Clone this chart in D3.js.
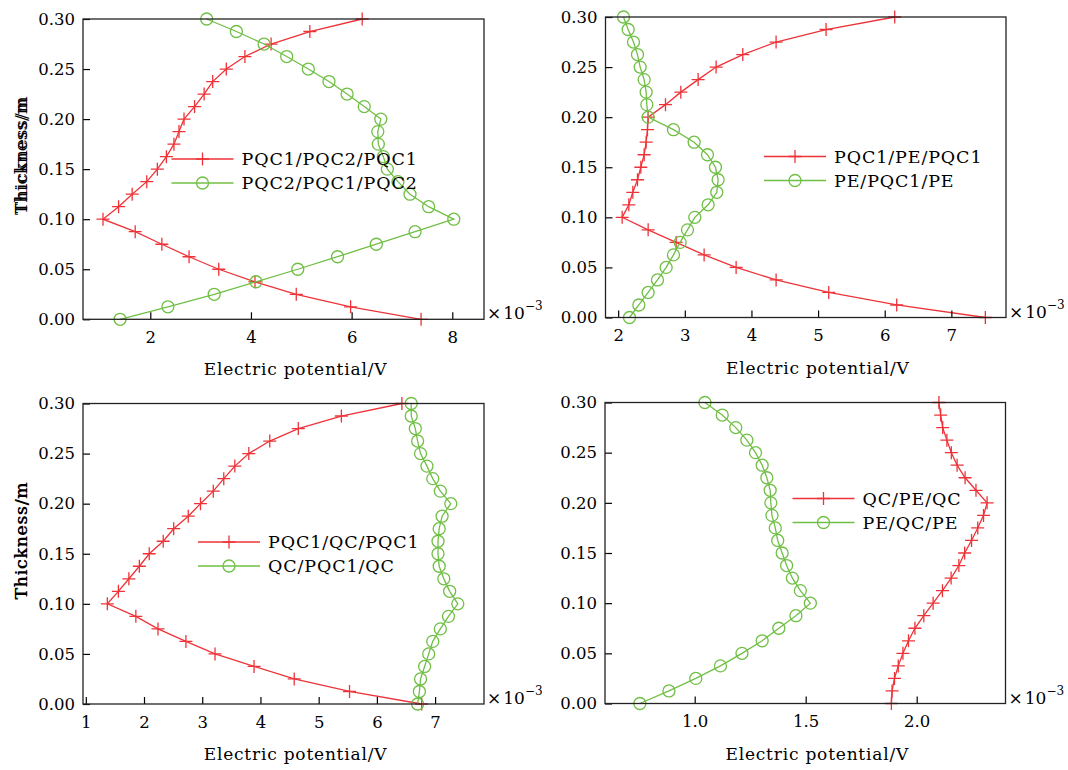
<!DOCTYPE html>
<html>
<head>
<meta charset="utf-8">
<script src="https://cdn.jsdelivr.net/npm/d3@7"></script>
<style>
  html, body { margin: 0; padding: 0; background: #fff; }
  svg { display: block; font-family: "DejaVu Serif", serif; }
</style>
</head>
<body>
<svg id="chart" width="1068" height="770"></svg>
<script>
// thickness of each sample (m), top to bottom
const thickness = [0.3, 0.2875, 0.275, 0.2625, 0.25, 0.2375, 0.225, 0.2125, 0.2, 0.1875, 0.175, 0.1625,
    0.15, 0.1375, 0.125, 0.1125, 0.1, 0.0875, 0.075, 0.0625, 0.05, 0.0375, 0.025, 0.0125, 0];

// electric potential (x 10^-3 V), one value per thickness
const pqc1Pqc2Pqc1 = [6.21, 5.17, 4.40, 3.88, 3.51, 3.24, 3.07, 2.88, 2.67, 2.57, 2.47, 2.32,
    2.14, 1.93, 1.64, 1.37, 1.06, 1.70, 2.23, 2.77, 3.36, 4.08, 4.90, 5.98, 7.38];
const pqc2Pqc1Pqc2 = [3.12, 3.71, 4.26, 4.71, 5.14, 5.55, 5.91, 6.25, 6.58, 6.52, 6.53, 6.63,
    6.71, 6.92, 7.16, 7.53, 8.03, 7.26, 6.49, 5.72, 4.93, 4.10, 3.27, 2.35, 1.40];

const pqc1PePqc1 = [6.15, 5.12, 4.37, 3.87, 3.47, 3.20, 2.94, 2.71, 2.45, 2.44, 2.42, 2.39,
    2.34, 2.29, 2.22, 2.16, 2.06, 2.45, 2.87, 3.29, 3.77, 4.37, 5.16, 6.18, 7.51];
const pePqc1Pe = [2.08, 2.15, 2.23, 2.29, 2.33, 2.39, 2.42, 2.43, 2.45, 2.83, 3.14, 3.34,
    3.46, 3.50, 3.48, 3.35, 3.15, 3.04, 2.93, 2.83, 2.72, 2.59, 2.45, 2.31, 2.17];

const pqc1QcPqc1 = [6.43, 5.39, 4.65, 4.16, 3.80, 3.56, 3.37, 3.19, 2.97, 2.76, 2.51, 2.33,
    2.09, 1.92, 1.74, 1.56, 1.37, 1.86, 2.24, 2.72, 3.22, 3.89, 4.58, 5.53, 6.77];
const qcPqc1Qc = [6.59, 6.59, 6.66, 6.70, 6.75, 6.86, 6.96, 7.09, 7.27, 7.12, 7.07, 7.05,
    7.05, 7.07, 7.15, 7.25, 7.39, 7.23, 7.09, 6.96, 6.89, 6.82, 6.75, 6.73, 6.70];

const qcPeQc = [2.100, 2.108, 2.117, 2.136, 2.156, 2.182, 2.218, 2.267, 2.317, 2.301, 2.275, 2.247,
    2.216, 2.190, 2.155, 2.116, 2.074, 2.032, 1.992, 1.963, 1.938, 1.917, 1.900, 1.889, 1.886];
const peQcPe = [1.046, 1.124, 1.185, 1.235, 1.274, 1.304, 1.325, 1.340, 1.343, 1.348, 1.363, 1.374,
    1.394, 1.414, 1.440, 1.476, 1.521, 1.456, 1.379, 1.304, 1.213, 1.116, 1.005, 0.884, 0.753];

const yTicks = [0, 0.05, 0.1, 0.15, 0.2, 0.25, 0.3];
const xTicks1 = [2, 4, 6, 8];
const xTicks2 = [2, 3, 4, 5, 6, 7];
const xTicks3 = [1, 2, 3, 4, 5, 6, 7];
const xTicks4 = [1.0, 1.5, 2.0];

const RED = "#ee3338";
const GREEN = "#70bf45";

const svg = d3.select("#chart");

const panels = [
    { box: [83, 484, 19, 319.3], xDomain: [0.663, 8.63], xTicks: xTicks1, fmt: d3.format("d"),
      series: [{ name: "PQC1/PQC2/PQC1", values: pqc1Pqc2Pqc1, kind: "plus" },
               { name: "PQC2/PQC1/PQC2", values: pqc2Pqc1Pqc2, kind: "circle" }],
      legend: { x: 171.5, y: 159 } },
    { box: [605.5, 1006, 17, 317.5], xDomain: [1.81, 7.82], xTicks: xTicks2, fmt: d3.format("d"),
      series: [{ name: "PQC1/PE/PQC1", values: pqc1PePqc1, kind: "plus" },
               { name: "PE/PQC1/PE", values: pePqc1Pe, kind: "circle" }],
      legend: { x: 764, y: 156.5 } },
    { box: [83, 484, 403.5, 704], xDomain: [0.952, 7.84], xTicks: xTicks3, fmt: d3.format("d"),
      series: [{ name: "PQC1/QC/PQC1", values: pqc1QcPqc1, kind: "plus" },
               { name: "QC/PQC1/QC", values: qcPqc1Qc, kind: "circle" }],
      legend: { x: 198, y: 542 } },
    { box: [605, 1005.5, 402.5, 703.5], xDomain: [0.596, 2.40], xTicks: xTicks4, fmt: d3.format(".1f"),
      series: [{ name: "QC/PE/QC", values: qcPeQc, kind: "plus" },
               { name: "PE/QC/PE", values: peQcPe, kind: "circle" }],
      legend: { x: 792.5, y: 498.5 } }
];

function drawMarker(g, kind, color, x, y) {
    if (kind === "plus") {
        g.append("path")
            .attr("d", `M${x - 6.5},${y}H${x + 6.5}M${x},${y - 6.5}V${y + 6.5}`)
            .attr("stroke", color).attr("stroke-width", 1.3).attr("fill", "none");
    } else {
        g.append("circle")
            .attr("cx", x).attr("cy", y).attr("r", 6)
            .attr("stroke", color).attr("stroke-width", 1.3).attr("fill", "none");
    }
}

panels.forEach(p => {
    const [left, right, top, bottom] = p.box;
    const x = d3.scaleLinear().domain(p.xDomain).range([left, right]);
    const y = d3.scaleLinear().domain([0, 0.3]).range([bottom, top]);
    const g = svg.append("g");

    // data lines and markers
    p.series.forEach(s => {
        const color = s.kind === "plus" ? RED : GREEN;
        const pts = s.values.map((v, i) => [v, thickness[i]]);
        g.append("path")
            .datum(pts)
            .attr("fill", "none")
            .attr("stroke", color)
            .attr("stroke-width", 1.3)
            .attr("d", d3.line().x(d => x(d[0])).y(d => y(d[1])));
        const mg = g.append("g");
        pts.forEach(d => drawMarker(mg, s.kind, color, x(d[0]), y(d[1])));
    });

    // axes (ticks point inward)
    const xAxis = g.append("g")
        .attr("transform", `translate(0,${bottom})`)
        .call(d3.axisBottom(x).tickValues(p.xTicks).tickFormat(p.fmt).tickSizeInner(-7).tickSizeOuter(0).tickPadding(12));
    const yAxis = g.append("g")
        .attr("transform", `translate(${left},0)`)
        .call(d3.axisLeft(y).tickValues(yTicks).tickFormat(d3.format(".2f")).tickSizeInner(-7).tickSizeOuter(0).tickPadding(8));
    [xAxis, yAxis].forEach(a => {
        a.select(".domain").remove();
        a.selectAll("line").attr("stroke", "#000").attr("stroke-width", 1.2);
        a.selectAll("text").attr("font-family", "DejaVu Serif").attr("font-size", 16.5).attr("fill", "#000");
    });
    xAxis.selectAll("text").attr("dy", "0.71em");

    g.append("rect")
        .attr("x", left).attr("y", top)
        .attr("width", right - left).attr("height", bottom - top)
        .attr("fill", "none").attr("stroke", "#222").attr("stroke-width", 1.3);

    // exponent note
    const ex = g.append("text")
        .attr("x", right + 3).attr("y", bottom)
        .attr("font-size", 17).attr("fill", "#000");
    ex.append("tspan").text("×");
    ex.append("tspan").attr("dx", 2).text("10");
    ex.append("tspan").attr("dy", -9).attr("font-size", 12).text("−3");

    // axis titles
    g.append("text")
        .attr("x", (left + right) / 2 + 12).attr("y", bottom + 56)
        .attr("text-anchor", "middle").attr("font-size", 17).attr("letter-spacing", 0.8)
        .text("Electric potential/V");
    g.append("text")
        .attr("transform", `translate(27,${(top + bottom) / 2 - 13}) rotate(-90)`)
        .attr("text-anchor", "middle").attr("font-size", 17).attr("letter-spacing", 0.9)
        .text("Thickness/m");

    // legend
    p.series.forEach((s, i) => {
        const color = s.kind === "plus" ? RED : GREEN;
        const ly = p.legend.y + i * 24;
        g.append("line")
            .attr("x1", p.legend.x).attr("x2", p.legend.x + 62)
            .attr("y1", ly).attr("y2", ly)
            .attr("stroke", color).attr("stroke-width", 1.3);
        drawMarker(g, s.kind, color, p.legend.x + 31, ly);
        g.append("text")
            .attr("x", p.legend.x + 70).attr("y", ly + 6)
            .attr("font-size", 17.5).attr("letter-spacing", 0.9).attr("fill", "#000")
            .text(s.name);
    });
});
</script>
</body>
</html>
